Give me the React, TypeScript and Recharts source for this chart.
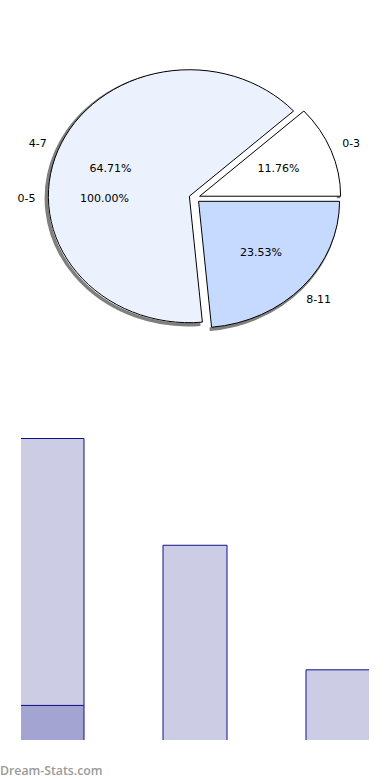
import { PieChart, Pie, Cell, BarChart, Bar, XAxis, YAxis } from 'recharts';

// pie: age groups
const pieGroups = ['0-3', '4-7', '8-11'];
const pieValues = [2, 11, 4];
const pieColors = ['#ffffff', '#ebf1fd', '#c6d9ff'];

// full circle underneath the split one
const totalGroups = ['0-5'];
const totalValues = [17];

// bars
const barGroups = ['Group 1', 'Group 2', 'Group 3'];
const barBaseValues = [2, 0, 0];
const barTopValues = [15, 11, 4];
const barMax = 17;

const pieData = pieGroups.map((name, i) => ({ name, value: pieValues[i] }));
const totalData = totalGroups.map((name, i) => ({ name, value: totalValues[i] }));
const barData = barGroups.map((group, i) => ({
  group,
  base: barBaseValues[i],
  top: barTopValues[i],
}));

const RAD = Math.PI / 180;
const Y_RATIO = 0.897; // the pie is drawn a little flattened
const EXPLODE = 5.5;
const FONT = '"DejaVu Sans", sans-serif';

function ovalSector(props: any) {
  const { cx, cy, outerRadius, startAngle, endAngle, fill, stroke } = props;
  const mid = (startAngle + endAngle) / 2;
  const rx = outerRadius;
  const ry = outerRadius * Y_RATIO;
  const x0 = cx + EXPLODE * Math.cos(-mid * RAD);
  const y0 = cy + EXPLODE * Y_RATIO * Math.sin(-mid * RAD);
  const pt = (a: number, dx = 0, dy = 0) => [
    x0 + dx + rx * Math.cos(-a * RAD),
    y0 + dy + ry * Math.sin(-a * RAD),
  ];
  const large = Math.abs(endAngle - startAngle) > 180 ? 1 : 0;
  const [sx, sy] = pt(startAngle);
  const [ex, ey] = pt(endAngle);
  const [ssx, ssy] = pt(startAngle, -2, 2);
  const [sex, sey] = pt(endAngle, -2, 2);
  return (
    <g>
      <path
        d={`M${ssx},${ssy} A${rx},${ry} 0 ${large} 0 ${sex},${sey}`}
        fill="none"
        stroke="rgba(0,0,0,0.5)"
        strokeWidth={3.5}
      />
      <path
        d={`M${x0},${y0} L${sx},${sy} A${rx},${ry} 0 ${large} 0 ${ex},${ey} Z`}
        fill={fill}
        stroke={stroke}
        strokeWidth={1}
      />
    </g>
  );
}

function pieLabel(props: any) {
  const { cx, cy, midAngle, name, percent } = props;
  const c = Math.cos(-midAngle * RAD);
  const s = Math.sin(-midAngle * RAD);
  return (
    <g>
      <text
        x={cx + 168 * c}
        y={cy + 168 * Y_RATIO * s}
        textAnchor="middle"
        dominantBaseline="central"
        fontSize={11}
        fontFamily={FONT}
        fill="#000"
      >
        {name}
      </text>
      <text
        x={cx + 90 * c}
        y={cy + 90 * Y_RATIO * s}
        textAnchor="middle"
        dominantBaseline="central"
        fontSize={11}
        fontFamily={FONT}
        fill="#000"
      >
        {(percent * 100).toFixed(2) + '%'}
      </text>
    </g>
  );
}

export default function App() {
  return (
    <div style={{ position: 'fixed', left: 0, top: 0, width: 390, height: 780, background: '#fff' }}>
      <div style={{ position: 'absolute', left: 0, top: 0 }}>
        <PieChart width={390} height={380} margin={{ top: 0, right: 0, bottom: 0, left: 0 }}>
          <Pie
            data={totalData}
            dataKey="value"
            nameKey="name"
            cx={194.5}
            cy={198}
            outerRadius={141}
            startAngle={0}
            endAngle={360}
            fill="none"
            stroke="none"
            label={pieLabel}
            labelLine={false}
            isAnimationActive={false}
          />
          <Pie
            data={pieData}
            dataKey="value"
            nameKey="name"
            cx={194.5}
            cy={198}
            outerRadius={141}
            startAngle={0}
            endAngle={360}
            stroke="#000"
            shape={ovalSector}
            label={pieLabel}
            labelLine={false}
            isAnimationActive={false}
          >
            {pieData.map((d, i) => (
              <Cell key={d.name} fill={pieColors[i]} />
            ))}
          </Pie>
        </PieChart>
      </div>

      {/* the bar plot is cut off at the sides and the bottom */}
      <div style={{ position: 'absolute', left: 21, top: 400, width: 348, height: 340, overflow: 'hidden' }}>
        <div style={{ position: 'absolute', left: -41, top: 0 }}>
          <BarChart
            width={429}
            height={341}
            data={barData}
            margin={{ top: 38.5, right: 0, bottom: 0, left: 0 }}
            barSize={64}
          >
            <XAxis dataKey="group" hide />
            <YAxis hide domain={[0, barMax]} />
            <Bar dataKey="base" stackId="s" fill="#a3a4d2" stroke="#10108e" isAnimationActive={false} />
            <Bar dataKey="top" stackId="s" fill="#cccde4" stroke="#10108e" isAnimationActive={false} />
          </BarChart>
        </div>
      </div>

      <div
        style={{
          position: 'absolute',
          left: 0,
          top: 762,
          fontFamily: '"Open Sans", sans-serif',
          fontWeight: 600,
          fontSize: 12.3,
          color: '#9a9a9a',
        }}
      >
        Dream-Stats.com
      </div>
    </div>
  );
}
